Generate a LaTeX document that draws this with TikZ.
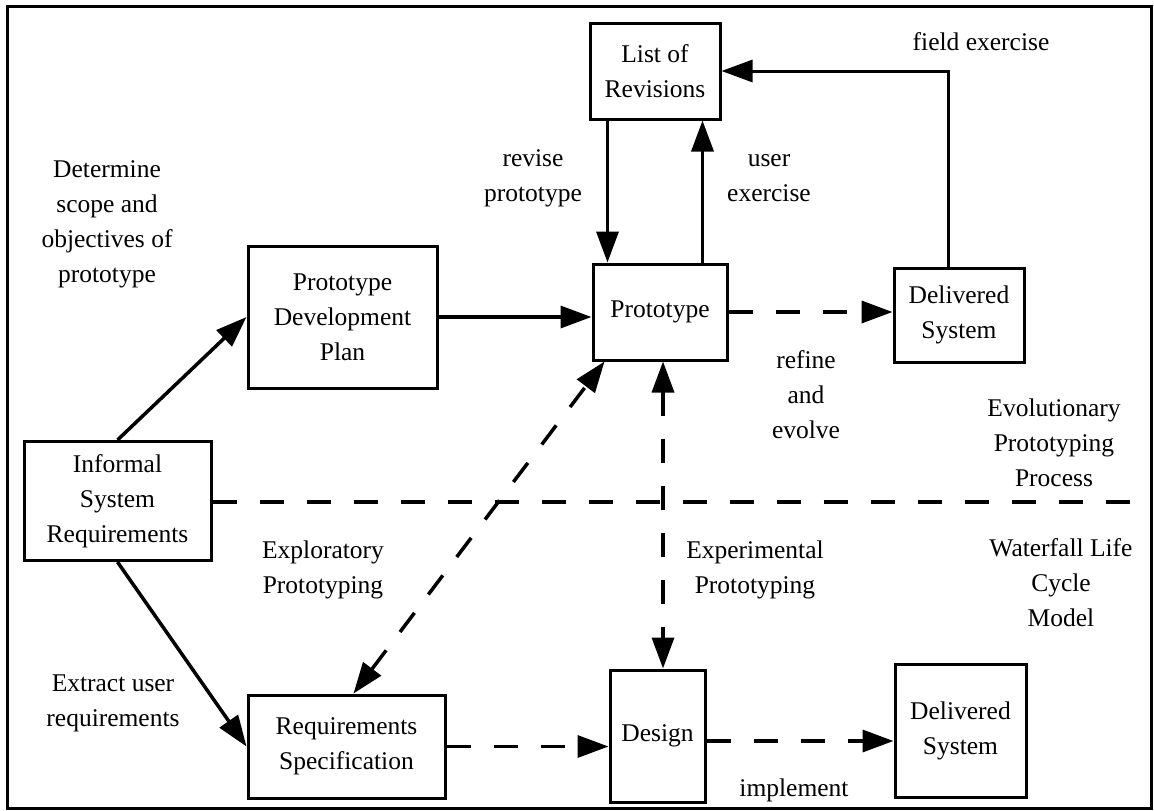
\documentclass[tikz,border=0pt]{standalone}
\usepackage{fontspec}
\setmainfont{Liberation Serif}
\usetikzlibrary{arrows.meta,calc}

\begin{document}
\begin{tikzpicture}[x=1pt,y=-1pt,
  txt/.style={font=\fontsize{25.5}{35}\selectfont,align=center,inner sep=0pt},
  box/.style={txt,draw,line width=3pt},
  conn/.style={line width=3.5pt,-{Triangle[length=31pt,width=22pt]}},
  both/.style={line width=3.5pt,{Triangle[length=31pt,width=22pt]}-{Triangle[length=31pt,width=22pt]}},
  dashes/.style={dash pattern=on 24pt off 23pt},
]
\useasboundingbox (0,0) rectangle (1154,811);
% outer frame
\draw[line width=3pt] (7,6) rectangle (1151,808);
\coordinate (fr) at (1151,502);

% boxes
\node[box,minimum width=130pt,minimum height=96pt] (lor)   at (655,71)    {List of\\Revisions};
\node[box,minimum width=134pt,minimum height=96pt] (proto) at (660,312)   {Prototype};
\node[box,minimum width=130pt,minimum height=94pt] (del1)  at (959,315)   {Delivered\\System};
\node[box,minimum width=189pt,minimum height=142pt] (pdp)  at (342.5,317) {Prototype\\Development\\Plan};
\node[box,minimum width=187pt,minimum height=119pt] (inf)  at (117.5,501) {Informal\\System\\Requirements};
\node[box,minimum width=197pt,minimum height=103pt] (req)  at (346.5,746.5) {Requirements\\Specification};
\node[box,minimum width=95pt,minimum height=132pt] (des)   at (657.5,736) {Design};
\node[box,minimum width=131pt,minimum height=133pt] (del2) at (960.5,730.5) {Delivered\\System};

% labels
\node[txt] (l1)  at (107,224)  {Determine\\scope and\\objectives of\\prototype};
\node[txt] (l2)  at (533,178)  {revise\\prototype};
\node[txt] (l3)  at (769,178)  {user\\exercise};
\node[txt] (l4)  at (981,42)   {field exercise};
\node[txt] (l5)  at (806,395)  {refine\\and\\evolve};
\node[txt] (l6)  at (1054,443) {Evolutionary\\Prototyping\\Process};
\node[txt] (l7)  at (323,570)  {Exploratory\\Prototyping};
\node[txt] (l8)  at (755,570)  {Experimental\\Prototyping};
\node[txt] (l9)  at (1061,583) {Waterfall Life\\Cycle\\Model};
\node[txt] (l10) at (113,703)  {Extract user\\requirements};
\node[txt] (l11) at (794,790)  {implement};

% solid connectors
\draw[conn] (inf.north) -- (pdp.west);
\draw[conn] (inf.south) -- (req.west);
\draw[conn] (pdp.east) -- (pdp.east -| proto.west);
\coordinate (rv) at ($(lor.south west)+(19,0)$);
\draw[conn] (rv) -- (rv |- proto.north);
\coordinate (ux) at ($(proto.north east)+(-26,0)$);
\draw[conn] (ux) -- (ux |- lor.south);
\coordinate (fx) at ($(del1.north)+(-11,0)$);
\draw[conn,line width=3pt] (fx) |- (lor.east);

% dashed connectors
\draw[conn,dashes] (proto.east) -- (proto.east -| del1.west);
\coordinate (ea) at ($(req.north west)+(107,0)$);
\coordinate (eb) at ($(proto.south west)+(13,0)$);
\draw[both,dashes] (ea) -- (eb);
\coordinate (xa) at ($(proto.south)+(3,0)$);
\draw[both,dashes] (xa) -- (xa |- des.north);
\draw[conn,dashes] (req.east) -- (req.east -| des.west);
\coordinate (im) at ($(des.east)+(0,5)$);
\draw[conn,dashes] (im) -- (im -| del2.west);

% boundary between the two process models
\draw[line width=3.5pt,dashes] (inf.east |- fr) -- (fr);
\end{tikzpicture}
\end{document}
